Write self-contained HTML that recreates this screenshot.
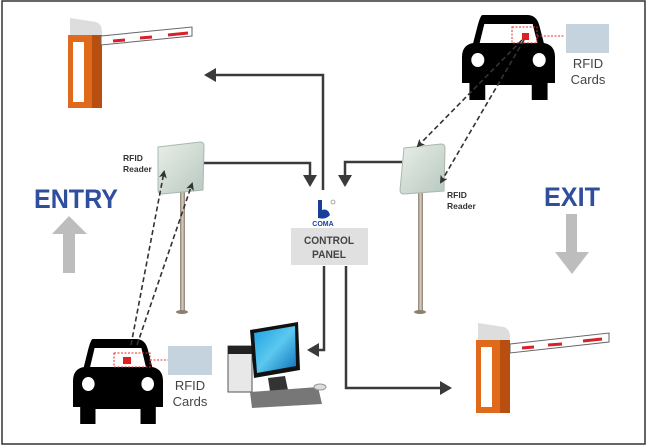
<!DOCTYPE html>
<html><head><style>
html,body{margin:0;padding:0;background:#fff;}
svg{display:block;}
text{font-family:"Liberation Sans",sans-serif;}
</style></head><body>
<svg width="648" height="448" viewBox="0 0 648 448" xmlns="http://www.w3.org/2000/svg">
<defs>
<marker id="ah" markerWidth="8" markerHeight="8" refX="6" refY="4" orient="auto" markerUnits="userSpaceOnUse"><path d="M0,0 L8,4 L0,8 L2,4 Z" fill="#333"/></marker>
<marker id="ab" markerWidth="14" markerHeight="14" refX="10" refY="7" orient="auto" markerUnits="userSpaceOnUse"><path d="M0,0 L12,7 L0,14 Z" fill="#3a3a3a"/></marker>
<linearGradient id="pole" x1="0" x2="1"><stop offset="0" stop-color="#8a7f70"/><stop offset=".5" stop-color="#d8d0c4"/><stop offset="1" stop-color="#8a7f70"/></linearGradient>
<linearGradient id="rdr" x1="0" y1="0" x2="1" y2="1"><stop offset="0" stop-color="#e8efe8"/><stop offset="1" stop-color="#b8c8c0"/></linearGradient>
<linearGradient id="scr" x1="0" y1="0" x2="1" y2="1"><stop offset="0" stop-color="#1aa0e0"/><stop offset=".5" stop-color="#5cc8f0"/><stop offset="1" stop-color="#0a70b8"/></linearGradient>
<g id="car">
<path d="M22,0 H70 Q80,0 83,10 L88,28 Q100,30 100,42 V68 H92 V85 H75 V70 H25 V85 H8 V68 H0 V42 Q0,30 12,28 L17,10 Q20,0 22,0 Z" fill="#000"/>
<path d="M24,9 H76 L81,28 H19 Z" fill="#fff"/>
<circle cx="17" cy="45" r="7" fill="#fff"/><circle cx="83" cy="45" r="7" fill="#fff"/>
</g>
<g id="barrier">
<path d="M2,17 L2,0 L28,4 Q34,6 34,14 L34,17 Z" fill="#ddd"/>
<rect x="0" y="17" width="34" height="73" fill="#e06a1c"/>
<rect x="24" y="17" width="10" height="73" fill="#b84e10"/>
<rect x="5" y="24" width="11" height="60" fill="#fff"/>
</g>
</defs>
<rect x="2" y="1" width="643" height="443" fill="#fff" stroke="#333" stroke-width="1.5"/>

<use href="#barrier" x="68" y="18"/>
<path d="M101,36 L192,27 L192,36 L101,45 Z" fill="#fff" stroke="#666" stroke-width="1"/>
<path d="M113,41 L125,40 M140,38 L152,37 M168,35 L188,33" stroke="#d8202a" stroke-width="3"/>
<use href="#barrier" x="476" y="323"/>
<path d="M510,344 L609,333 L609,342 L510,353 Z" fill="#fff" stroke="#666" stroke-width="1"/>
<path d="M522,348 L534,347 M548,345 L562,344 M583,341 L602,339" stroke="#d8202a" stroke-width="3"/>

<g stroke="#3a3a3a" stroke-width="2.5" fill="none">
<path d="M323,190 V75 H206" marker-end="url(#ab)"/>
<path d="M203,163 H310 V185" marker-end="url(#ab)"/>
<path d="M402,162 H345 V185" marker-end="url(#ab)"/>
<path d="M324,266 V350 H309" marker-end="url(#ab)"/>
<path d="M346,266 V388 H450" marker-end="url(#ab)"/>
</g>

<rect x="180" y="190" width="5" height="122" fill="url(#pole)"/>
<ellipse cx="182" cy="312" rx="6" ry="2" fill="#8a7f70"/>
<path d="M158,147 L200,142 Q204,142 204,146 L203,190 L162,194 Q158,194 158,190 Z" fill="url(#rdr)" stroke="#a8b8b0"/>
<rect x="418" y="190" width="5" height="122" fill="url(#pole)"/>
<ellipse cx="420" cy="312" rx="6" ry="2" fill="#8a7f70"/>
<path d="M404,148 L441,144 Q445,144 445,148 L444,191 L404,194 Q400,194 400,190 Z" fill="url(#rdr)" stroke="#a8b8b0"/>
<text x="123" y="161" font-size="8.5" font-weight="bold" fill="#333">RFID</text>
<text x="123" y="172" font-size="8.5" font-weight="bold" fill="#333">Reader</text>
<text x="447" y="198" font-size="8.5" font-weight="bold" fill="#333">RFID</text>
<text x="447" y="209" font-size="8.5" font-weight="bold" fill="#333">Reader</text>

<use href="#car" x="462" y="15" transform="translate(462 15) scale(0.93 1) translate(-462 -15)"/>
<rect x="512" y="27" width="25" height="16" fill="none" stroke="#e03030" stroke-dasharray="2,1.5"/>
<rect x="522" y="33" width="7" height="7" fill="#e02020"/>
<path d="M537,36 L565,36" stroke="#e03030" stroke-dasharray="2,1.5"/>
<rect x="566" y="24" width="43" height="29" fill="#c5d3de"/>
<text x="588" y="68" font-size="13" fill="#444" text-anchor="middle">RFID</text>
<text x="588" y="84" font-size="13" fill="#444" text-anchor="middle">Cards</text>

<g transform="translate(73 339) scale(0.9 1)"><use href="#car"/></g>
<rect x="114" y="353" width="36" height="14" fill="none" stroke="#e03030" stroke-dasharray="2,1.5"/>
<rect x="123" y="357" width="8" height="7" fill="#e02020"/>
<path d="M150,360 L168,360" stroke="#e03030" stroke-dasharray="2,1.5"/>
<rect x="168" y="346" width="44" height="29" fill="#c5d3de"/>
<text x="190" y="390" font-size="13" fill="#444" text-anchor="middle">RFID</text>
<text x="190" y="406" font-size="13" fill="#444" text-anchor="middle">Cards</text>

<g stroke="#333" stroke-width="1.6" stroke-dasharray="5,3" fill="none">
<path d="M522,40 L418,146" marker-end="url(#ah)"/>
<path d="M524,40 L441,182" marker-end="url(#ah)"/>
<path d="M131,345 L164,172" marker-end="url(#ah)"/>
<path d="M137,345 L192,184" marker-end="url(#ah)"/>
</g>

<path d="M318,200 L318,218 Q326,220 330,215 Q328,208 322,210 L322,200 Z" fill="#1a3c9a"/>
<circle cx="333" cy="202" r="2" fill="none" stroke="#666" stroke-width=".6"/>
<text x="323" y="226" font-size="7" font-weight="bold" fill="#1a3c9a" text-anchor="middle" font-family="Liberation Serif">COMA</text>
<rect x="291" y="228" width="77" height="37" fill="#e0e0e0"/>
<text x="329" y="244" font-size="11" font-weight="bold" fill="#444" text-anchor="middle" textLength="50" lengthAdjust="spacingAndGlyphs">CONTROL</text>
<text x="329" y="258" font-size="11" font-weight="bold" fill="#444" text-anchor="middle" textLength="34" lengthAdjust="spacingAndGlyphs">PANEL</text>

<rect x="228" y="346" width="24" height="46" fill="#e8e8e8" stroke="#555"/>
<rect x="228" y="346" width="24" height="8" fill="#222"/>
<path d="M250,330 L298,322 L300,370 L254,378 Z" fill="#111"/>
<path d="M254,333 L295,326 L296,366 L257,373 Z" fill="url(#scr)"/>
<path d="M268,378 L285,376 L288,390 L270,391 Z" fill="#333"/>
<path d="M250,392 L318,387 L322,404 L252,408 Z" fill="#777"/>
<ellipse cx="320" cy="387" rx="6" ry="3" fill="#ddd" stroke="#999"/>

<text x="76" y="208" font-size="27" font-weight="bold" fill="#2f4f9e" text-anchor="middle" textLength="84" lengthAdjust="spacingAndGlyphs">ENTRY</text>
<path d="M69,216 L87,234 L75,234 L75,273 L63,273 L63,234 L52,234 Z" fill="#bdbdbd"/>
<text x="572" y="206" font-size="27" font-weight="bold" fill="#2f4f9e" text-anchor="middle" textLength="56" lengthAdjust="spacingAndGlyphs">EXIT</text>
<path d="M566,214 L577,214 L577,252 L589,252 L572,274 L555,252 L566,252 Z" fill="#bdbdbd"/>
</svg>
</body></html>
